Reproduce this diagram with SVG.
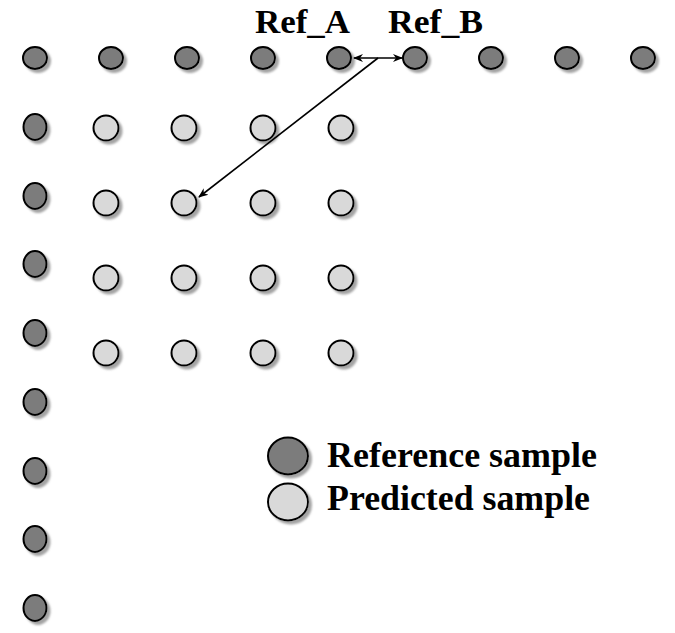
<svg xmlns="http://www.w3.org/2000/svg" width="675" height="633" viewBox="0 0 675 633">
<defs>
<filter id="sh" x="-30%" y="-30%" width="170%" height="170%">
<feDropShadow dx="3" dy="3" stdDeviation="1.2" flood-color="#9a9a9a" flood-opacity="0.9"/>
</filter>
<marker id="ah" viewBox="0 0 10 10" refX="9" refY="5" markerWidth="10" markerHeight="10" markerUnits="userSpaceOnUse" orient="auto-start-reverse">
<path d="M0,1 L10,5 L0,9 L3,5 Z" fill="#000"/>
</marker>
</defs>
<style>
.d{fill:#7b7b7b;stroke:#000;stroke-width:2;filter:url(#sh)}
.l{fill:#d9d9d9;stroke:#000;stroke-width:2;filter:url(#sh)}
.t{font-family:"Liberation Serif","Times New Roman",serif;font-weight:bold;fill:#000}
.c{stroke:#000;stroke-width:1.6;fill:none}
</style>
<rect width="675" height="633" fill="#fff"/>
<g id="top-row">
<ellipse class="d" cx="35" cy="58" rx="12" ry="11"/>
<ellipse class="d" cx="111" cy="58" rx="12" ry="11"/>
<ellipse class="d" cx="187" cy="58" rx="12" ry="11"/>
<ellipse class="d" cx="263" cy="58" rx="12" ry="11"/>
<ellipse id="ref-a" class="d" cx="339" cy="58" rx="12" ry="11"/>
<ellipse id="ref-b" class="d" cx="415" cy="58" rx="12" ry="11"/>
<ellipse class="d" cx="491" cy="58" rx="12" ry="11"/>
<ellipse class="d" cx="567" cy="58" rx="12" ry="11"/>
<ellipse class="d" cx="643" cy="58" rx="12" ry="11"/>
</g>
<g id="left-column">
<ellipse class="d" cx="35" cy="127" rx="11.5" ry="13"/>
<ellipse class="d" cx="35" cy="196" rx="11.5" ry="13"/>
<ellipse class="d" cx="35" cy="264" rx="11.5" ry="13"/>
<ellipse class="d" cx="35" cy="333" rx="11.5" ry="13"/>
<ellipse class="d" cx="35" cy="402" rx="11.5" ry="13"/>
<ellipse class="d" cx="35" cy="471" rx="11.5" ry="13"/>
<ellipse class="d" cx="35" cy="539" rx="11.5" ry="13"/>
<ellipse class="d" cx="35" cy="608" rx="11.5" ry="13"/>
</g>
<g id="predicted-grid">
<ellipse class="l" cx="106" cy="128" rx="12.5" ry="12.5"/>
<ellipse class="l" cx="184" cy="128" rx="12.5" ry="12.5"/>
<ellipse class="l" cx="263" cy="128" rx="12.5" ry="12.5"/>
<ellipse class="l" cx="341" cy="128" rx="12.5" ry="12.5"/>
<ellipse class="l" cx="106" cy="203" rx="12.5" ry="12.5"/>
<ellipse id="target" class="l" cx="184" cy="203" rx="12.5" ry="12.5"/>
<ellipse class="l" cx="263" cy="203" rx="12.5" ry="12.5"/>
<ellipse class="l" cx="341" cy="203" rx="12.5" ry="12.5"/>
<ellipse class="l" cx="106" cy="278" rx="12.5" ry="12.5"/>
<ellipse class="l" cx="184" cy="278" rx="12.5" ry="12.5"/>
<ellipse class="l" cx="263" cy="278" rx="12.5" ry="12.5"/>
<ellipse class="l" cx="341" cy="278" rx="12.5" ry="12.5"/>
<ellipse class="l" cx="106" cy="353" rx="12.5" ry="12.5"/>
<ellipse class="l" cx="184" cy="353" rx="12.5" ry="12.5"/>
<ellipse class="l" cx="263" cy="353" rx="12.5" ry="12.5"/>
<ellipse class="l" cx="341" cy="353" rx="12.5" ry="12.5"/>
</g>
<g id="labels">
<text class="t" x="255" y="33" font-size="33" textLength="95" lengthAdjust="spacingAndGlyphs">Ref_A</text>
<text class="t" x="388" y="33" font-size="33" textLength="95" lengthAdjust="spacingAndGlyphs">Ref_B</text>
</g>
<g id="connectors">
<line class="c" x1="354" y1="58" x2="402" y2="58" marker-start="url(#ah)" marker-end="url(#ah)"/>
<line class="c" x1="378" y1="58" x2="199" y2="197" marker-end="url(#ah)"/>
</g>
<g id="legend">
<g id="legend-ref">
<ellipse class="d" cx="288" cy="456" rx="20" ry="18.5"/>
<text class="t" x="327" y="467" font-size="35" textLength="270" lengthAdjust="spacingAndGlyphs">Reference sample</text>
</g>
<g id="legend-pred">
<ellipse class="l" cx="288" cy="502" rx="20" ry="18.5"/>
<text class="t" x="327" y="510" font-size="35" textLength="263" lengthAdjust="spacingAndGlyphs">Predicted sample</text>
</g>
</g>
</svg>
